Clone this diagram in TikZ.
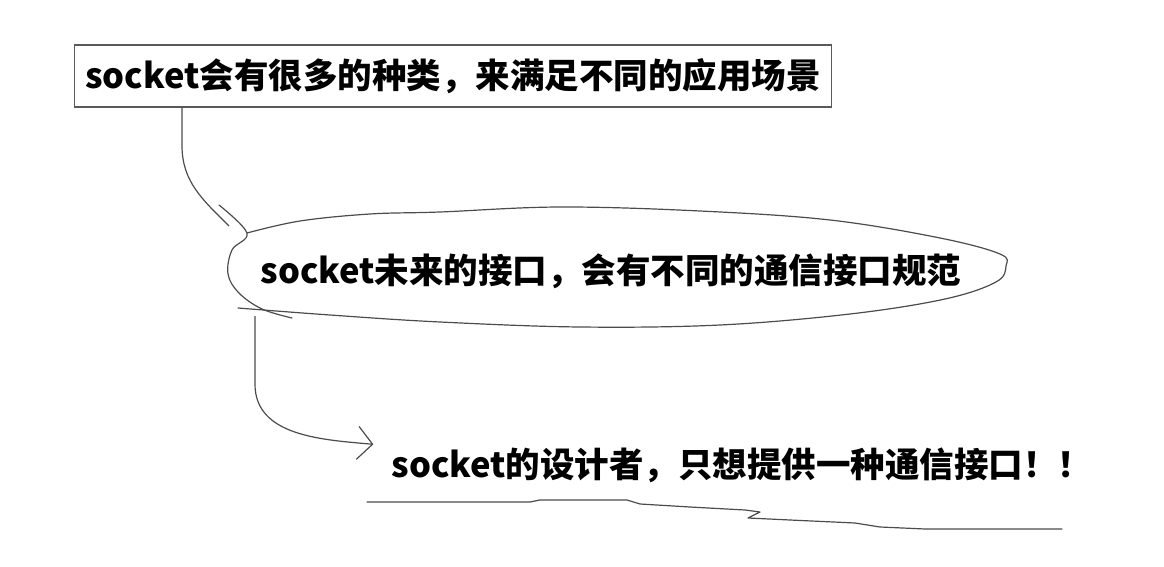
\documentclass[tikz,border=0pt]{standalone}
\usepackage{fontspec}
\newfontfamily\cjk{Noto Sans CJK SC}
\usepackage{tikz}
\usetikzlibrary{positioning,arrows.meta,shapes.geometric}

\begin{document}
\begin{tikzpicture}[x=1pt, y=-1pt,
			box/.style={draw=black!65, line width=1.3pt, rectangle, minimum width=757pt, minimum height=62pt, align=center},
			ring/.style={ellipse, minimum width=778pt, minimum height=114pt, inner sep=0pt},
			plain/.style={inner sep=3pt, align=center},
			txt/.style={font=\cjk\bfseries\fontsize{34.5}{40}\selectfont},
			arrow/.style={line width=1.2pt, draw=black!70},
			stroke/.style={line width=1.2pt, draw=black!70, line join=round, line cap=round}]
			
			\useasboundingbox (0,0) rectangle (1164,567);
			
			\node[box, txt] (kinds) at (453,76) {socket会有很多的种类，来满足不同的应用场景};
			\node[ring] (bubble) at (616,268) {};
			\node[plain, txt] (iface) at (611,271) {socket未来的接口，会有不同的通信接口规范};
			\node[plain, txt] (design) at (742,465) {socket的设计者，只想提供一种通信接口！！};
			
			% hand drawn outline of the bubble
			\draw[stroke] plot[smooth, tension=0.6] coordinates {(247,233) (300,221) (370,214) (440,212)
				(560,207) (700,211) (830,220) (940,238) (1000,254) (1006,266) (996,282) (945,299)
				(850,314) (720,325) (580,327) (440,322) (330,315) (238,308)};
			\draw[stroke] plot[smooth, tension=0.6] coordinates {(219,205) (247,233) (232,250) (228,274)
				(239,293) (262,309) (292,318)};
			
			\coordinate (c1) at (182,0);
			\coordinate (c2) at (255,0);
			\coordinate (tip1) at (229,226);
			
			\draw[arrow] (kinds.south -| c1) -- ++(0,38) to[out=-90, in=135] (tip1);
			\draw[arrow, -{Straight Barb[length=15pt, width=33pt]}] (bubble.south -| c2) ++(0,-9) -- ++(0,68)
				to[out=-90, in=175] ([xshift=-15pt]design.north west);
			
			% underline
			\draw[stroke] (367,502) -- (530,502) -- (540,500) -- (627,500) -- (640,504) -- (690,507)
				-- (745,510) -- (760,512) -- (748,518) -- (790,520) -- (855,523) -- (880,527) -- (925,529) -- (1062,529);
			
		\end{tikzpicture}
\end{document}
